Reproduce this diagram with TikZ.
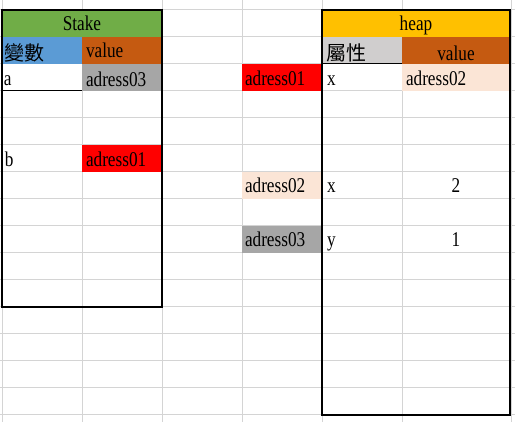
\documentclass[tikz,border=0pt]{standalone}
\usepackage{fontspec}
\setmainfont{Liberation Serif}[FakeStretch=0.82]
\newfontfamily\cjk{Noto Sans CJK TC}
\definecolor{grid}{HTML}{D4D4D4}
\definecolor{xgreen}{HTML}{70AD47}
\definecolor{xblue}{HTML}{5B9BD5}
\definecolor{xorange}{HTML}{C55A11}
\definecolor{xgray}{HTML}{A6A6A6}
\definecolor{xred}{HTML}{FF0000}
\definecolor{xpeach}{HTML}{FBE5D6}
\definecolor{xgold}{HTML}{FFC000}
\definecolor{xlgray}{HTML}{D0CECE}
\tikzset{
  cellbox/.style={draw=none, inner sep=0pt, outer sep=0pt, anchor=north west, minimum height=27pt},
  w80/.style={minimum width=80pt},
  w108/.style={minimum width=108pt},
  w160/.style={minimum width=160pt},
  w188/.style={minimum width=188pt},
  txt/.style={inner sep=0pt, outer sep=0pt, font=\fontsize{21}{21}\selectfont},
  cjktxt/.style={inner sep=0pt, outer sep=0pt, font=\cjk\fontsize{20}{20}\selectfont},
  gridline/.style={draw=grid, line width=1pt},
  frame/.style={draw=black, line width=2.5pt},
  thinblack/.style={draw=black, line width=1pt}
}
\begin{document}
\begin{tikzpicture}[x=1pt,y=-1pt]
\useasboundingbox (0,0) rectangle (515,422);
\fill[white] (0,0) rectangle (515,422);
% grid
\foreach \yy in {10,37,...,415} \draw[gridline] (0,\yy) -- (515,\yy);
\foreach \xx in {2,82,162,242,322,402,511} \draw[gridline] (\xx,0) -- (\xx,422);
% Stake table fills
\node[cellbox,w160,fill=xgreen] (sh) at (2,10) {};
\node[cellbox,w80,fill=xblue] (sk) at (2,37) {};
\node[cellbox,w80,fill=xorange] (sv) at (82,37) {};
\node[cellbox,w80,fill=white] (sa) at (2,64) {};
\node[cellbox,w80,fill=xgray] (sav) at (82,64) {};
\node[cellbox,w80,fill=xred] (sbv) at (82,145) {};
% middle column
\node[cellbox,w80,fill=xred] (m1) at (242,64) {};
\node[cellbox,w80,fill=xpeach] (m2) at (242,172) {};
\node[cellbox,w80,fill=xgray] (m3) at (242,226) {};
% heap fills
\node[cellbox,w188,fill=xgold] (hh) at (322,10) {};
\node[cellbox,w80,fill=xlgray] (hk) at (322,37) {};
\node[cellbox,w108,fill=xorange] (hv) at (402,37) {};
\node[cellbox,w108,fill=xpeach] (h1v) at (402,64) {};
% thin black lines
\draw[thinblack] (sa.south west) -- (sa.south east);
\draw[thinblack] (hk.south west) -- (hk.south east);
% frames
\draw[frame] (2,10) rectangle (162,307);
\draw[frame] (322,10) rectangle (510,415);
% texts
\node[txt,anchor=base] at (82,31) {Stake};
\node[cjktxt,anchor=base west] at (5,61) {變數};
\node[txt,anchor=base west] at (86,58) {value};
\node[txt,anchor=base west] at (4,86) {a};
\node[txt,anchor=base west] at (86,87) {adress03};
\node[txt,anchor=base west] at (5,167) {b};
\node[txt,anchor=base west] at (86,167) {adress01};
\node[txt,anchor=base west] at (245,86) {adress01};
\node[txt,anchor=base west] at (245,193) {adress02};
\node[txt,anchor=base west] at (245,247) {adress03};
\node[txt,anchor=base] at (416,31) {heap};
\node[cjktxt,anchor=base west] at (326,61) {屬性};
\node[txt,anchor=base] at (456,61) {value};
\node[txt,anchor=base west] at (327,86) {x};
\node[txt,anchor=base west] at (406,86) {adress02};
\node[txt,anchor=base west] at (327,193) {x};
\node[txt,anchor=base] at (456,193) {2};
\node[txt,anchor=base west] at (327,247) {y};
\node[txt,anchor=base] at (456,247) {1};
\end{tikzpicture}
\end{document}
